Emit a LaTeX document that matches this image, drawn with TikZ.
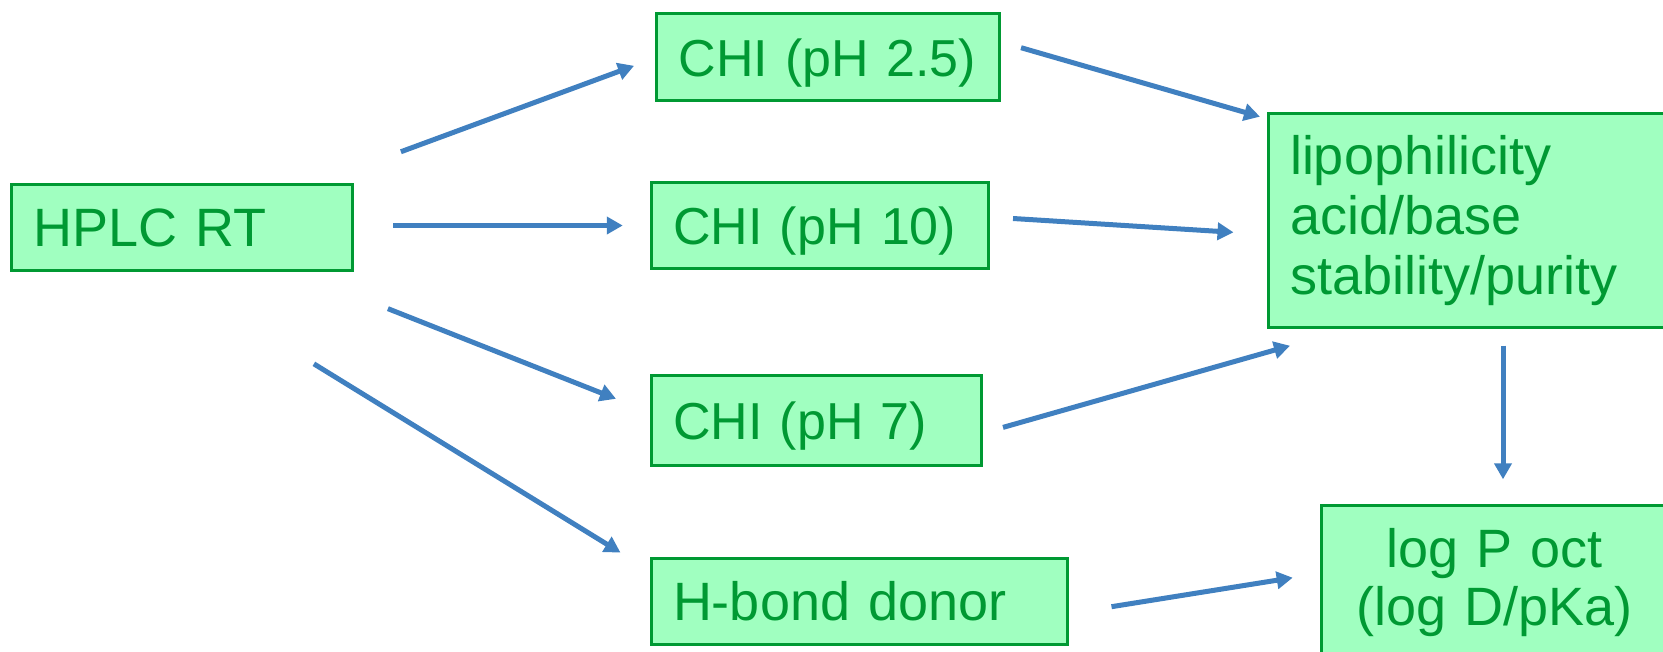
\documentclass[tikz,border=0pt]{standalone}
\usepackage{fontspec}
\setmainfont{Liberation Sans}
\usetikzlibrary{arrows.meta}
\definecolor{boxgreen}{RGB}{0,153,51}
\definecolor{boxfill}{RGB}{160,255,192}
\definecolor{arrowblue}{RGB}{64,128,192}
\begin{document}
\begin{tikzpicture}[x=1pt,y=-1pt,
  gbox/.style={draw=boxgreen, fill=boxfill, line width=3pt, text=boxgreen,
    font=\fontsize{54}{60}\selectfont, inner xsep=22pt, inner ysep=0pt,
    outer sep=0pt, align=left},
  oneline/.style={text height=39pt, text depth=0pt},
  chifont/.style={font=\fontsize{52}{60}\selectfont},
  arr/.style={draw=arrowblue, line width=5pt, -{Triangle[length=16pt,width=17pt]}}]
\path[use as bounding box] (0,0) rectangle (1663,651);
\fill[white] (0,0) rectangle (1663,651);
\clip (0,0) rectangle (1663,651);

\node[gbox, oneline, text width=297pt, minimum height=85.5pt] (hplc) at (182.4,227.3) {HPLC RT};
\node[gbox, chifont, oneline, text width=298.5pt, minimum height=87pt] (chi25) at (827.8,57.3) {CHI (pH 2.5)};
\node[gbox, chifont, oneline, text width=293.5pt, minimum height=86pt] (chi10) at (819.8,225) {CHI (pH 10)};
\node[gbox, chifont, oneline, text width=286pt, minimum height=90.6pt] (chi7) at (816,420.3) {CHI (pH 7)};
\node[gbox, oneline, text width=372pt, minimum height=86pt] (hbond) at (859,601) {H-bond donor};
\node[gbox, text width=358pt, minimum height=214.4pt] (lipo) at (1469,220.5) {lipophilicity\\acid/base\\stability/purity};
\node[gbox, align=center, text width=302.5pt, minimum height=156pt, font=\fontsize{54}{58}\selectfont] (logp) at (1494.75,583) {log P oct\\(log D/pKa)};

\draw[arr] ([shift={(48,-32.8)}]hplc.north east) -- ([shift={(-22.5,8.5)}]chi25.west);
\draw[arr] ([shift={(40.5,-1.8)}]hplc.east) -- ([shift={(-28.3,0.5)}]chi10.west);
\draw[arr] ([shift={(35,38.6)}]hplc.south east) -- ([shift={(-35,23.8)}]chi7.north west);
\draw[arr] ([shift={(-39,93.8)}]hplc.south east) -- ([shift={(-30.5,-5.4)}]hbond.north west);
\draw[arr] ([shift={(22,-9.6)}]chi25.east) -- ([shift={(-8,3.4)}]lipo.north west);
\draw[arr] ([shift={(24.5,-6.5)}]chi10.east) -- ([shift={(-34.5,11.8)}]lipo.west);
\draw[arr] ([shift={(22,7.1)}]chi7.east) -- ([shift={(22,18)}]lipo.south west);
\draw[arr] ([shift={(34,18)}]lipo.south) -- ([shift={(8.25,-25.7)}]logp.north);
\draw[arr] ([shift={(44.5,5.7)}]hbond.east) -- ([shift={(-28.8,-5.3)}]logp.west);
\end{tikzpicture}
\end{document}
